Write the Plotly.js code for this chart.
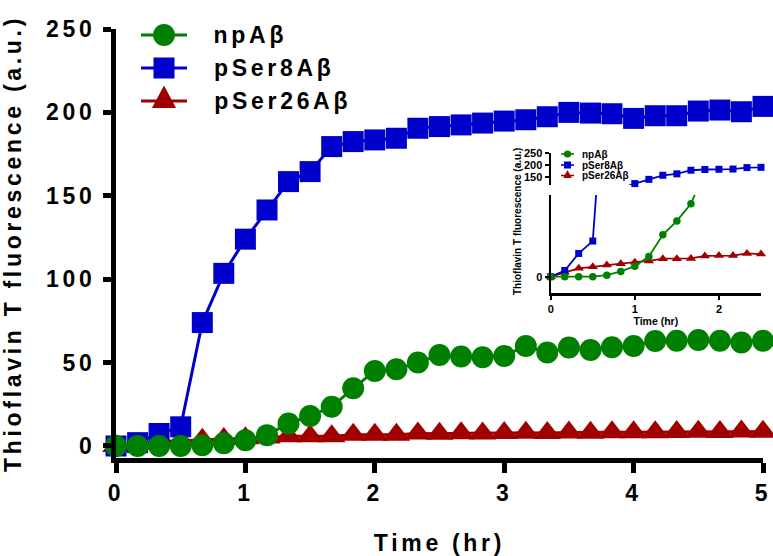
<!DOCTYPE html>
<html>
<head>
<meta charset="utf-8">
<script src="https://cdn.plot.ly/plotly-3.0.1.min.js"></script>
<style>
html, body { margin: 0; padding: 0; background: #ffffff; }
#chart { width: 773px; height: 556px; }
.xtick text, .ytick text, .xtitle, .ytitle,
.annotation[data-index="0"] text, .annotation[data-index="1"] text, .annotation[data-index="2"] text { letter-spacing: 3.7px; }
</style>
</head>
<body>
<div id="chart"></div>
<script>
// ---- data ----
const timeHr = [0, 0.167, 0.333, 0.5, 0.667, 0.833, 1, 1.167, 1.333, 1.5, 1.667, 1.833, 2, 2.167, 2.333, 2.5,
  2.667, 2.833, 3, 3.167, 3.333, 3.5, 3.667, 3.833, 4, 4.167, 4.333, 4.5, 4.667, 4.833, 5];
const npAb = [0, 0, 0, 0, 0.5, 1.7, 3.4, 6.5, 13.5, 18, 23.5, 34.6, 45, 46, 50, 54.6,
  53.6, 53.2, 54, 60, 56, 59, 57.6, 59.2, 60, 63, 63.1, 63.5, 63.1, 62, 63.1];
const pSer8Ab = [0, 2, 7.5, 11.5, 74, 103.5, 124, 141.5, 158.5, 164.5, 179.5, 182.5, 183.5, 184.5, 190.5, 191.5,
  192.5, 193.6, 194.8, 195.6, 197.4, 200, 199.6, 199.2, 196.4, 198, 198, 200.8, 201.4, 200.4, 203.6];
const pSer26Ab = [0, 1.4, 2.7, 3.2, 3.8, 4.2, 4.7, 5.1, 5.8, 5.8, 5.9, 6.7, 6.8, 6.8, 7.5, 7.3,
  7.6, 7.5, 7.8, 8, 7.8, 8.1, 8, 8.2, 8.3, 8.2, 8.4, 8.6, 8.4, 8.7, 8.6];
const seriesNames = ['npAβ', 'pSer8Aβ', 'pSer26Aβ'];
const xTicks = [0, 1, 2, 3, 4, 5];
const yTicks = [0, 50, 100, 150, 200, 250];
const insetXTicks = [0, 1, 2];
const insetLowTicks = [0];
const insetHighTicks = [150, 200, 250];
const xTitle = 'Time (hr)';
const yTitle = 'Thioflavin T fluorescence (a.u.)';

// ---- style ----
const GREEN = '#008000', BLUE = '#0000CD', RED = '#A00000';
const FAM = 'Liberation Sans, Arial, sans-serif';
const SPACING = 3.7;
const W = 773, H = 556, L = 116, R = 10, T = 29, B = 98;
const PW = W - L - R, PH = H - T - B;
const X = px => (px - L) / PW;
const Y = py => (H - B - py) / PH;
const font = (size) => ({family: FAM, size: size, color: '#000', weight: 'bold'});

const series = [
  {y: pSer26Ab, name: seriesNames[2], color: RED, sym: 'triangle-up', big: 24, small: 9},
  {y: pSer8Ab, name: seriesNames[1], color: BLUE, sym: 'square', big: 21, small: 7},
  {y: npAb, name: seriesNames[0], color: GREEN, sym: 'circle', big: 22, small: 7.5}
];

const traces = [];
series.forEach(s => {
  traces.push({x: timeHr, y: s.y, name: s.name, type: 'scatter', mode: 'lines+markers',
    xaxis: 'x', yaxis: 'y', cliponaxis: false, showlegend: false,
    line: {color: s.color, width: 3}, marker: {symbol: s.sym, size: s.big, color: s.color}});
});
series.forEach(s => {
  ['y2', 'y3'].forEach(ya => {
    traces.push({x: timeHr, y: s.y, name: s.name, type: 'scatter', mode: 'lines+markers',
      xaxis: 'x2', yaxis: ya, cliponaxis: false, showlegend: false,
      line: {color: s.color, width: 1.8}, marker: {symbol: s.sym, size: s.small, color: s.color}});
  });
});

// ---- custom legends (main + inset) ----
const shapes = [], annotations = [];
function legendRow(cx, cy, lineHalf, mk, sym, color, lw, textX, text, fsize, spaced) {
  shapes.push({type: 'line', xref: 'paper', yref: 'paper', x0: X(cx - lineHalf), x1: X(cx + lineHalf),
    y0: Y(cy), y1: Y(cy), line: {color: color, width: lw}});
  if (sym === 'circle') {
    shapes.push({type: 'circle', xref: 'paper', yref: 'paper', x0: X(cx - mk), x1: X(cx + mk),
      y0: Y(cy + mk), y1: Y(cy - mk), fillcolor: color, line: {width: 0}});
  } else if (sym === 'square') {
    shapes.push({type: 'rect', xref: 'paper', yref: 'paper', x0: X(cx - mk), x1: X(cx + mk),
      y0: Y(cy + mk), y1: Y(cy - mk), fillcolor: color, line: {width: 0}});
  } else {
    const p = 'M' + X(cx - mk * 1.05) + ',' + Y(cy + mk * 0.6) + ' L' + X(cx + mk * 1.05) + ',' + Y(cy + mk * 0.6) +
      ' L' + X(cx) + ',' + Y(cy - mk * 1.35) + ' Z';
    shapes.push({type: 'path', xref: 'paper', yref: 'paper', path: p, fillcolor: color, line: {width: 0}});
  }
  const shift = spaced ? [...text].length * SPACING / 2 : 0;
  annotations.push({xref: 'paper', yref: 'paper', x: X(textX), y: Y(cy), xanchor: 'left', yanchor: 'middle',
    xshift: shift, text: text, showarrow: false, font: font(fsize)});
}
legendRow(164, 35, 23, 11, 'circle', GREEN, 3, 212, seriesNames[0], 23, true);
legendRow(164, 68, 23, 10.5, 'square', BLUE, 3, 212, seriesNames[1], 23, true);
legendRow(164, 101, 23, 11.5, 'triangle', RED, 3, 212, seriesNames[2], 23, true);
legendRow(567.5, 154, 6.5, 3.6, 'circle', GREEN, 1.6, 580, seriesNames[0], 10, false);
legendRow(567.5, 165, 6.5, 3.5, 'square', BLUE, 1.6, 580, seriesNames[1], 10, false);
legendRow(567.5, 175.5, 6.5, 4, 'triangle', RED, 1.6, 580, seriesNames[2], 10, false);
annotations.push({xref: 'paper', yref: 'paper', x: X(517), y: Y(222), xanchor: 'center', yanchor: 'middle',
  text: yTitle, textangle: -90, showarrow: false, font: font(10)});

const axMain = {showline: true, linecolor: '#000', linewidth: 5, ticks: 'outside', tickcolor: '#000',
  tickwidth: 5, showgrid: false, zeroline: false, tickfont: font(23)};
const axInset = {showline: true, linecolor: '#000', linewidth: 2.2, ticks: 'outside', tickcolor: '#000',
  tickwidth: 2, ticklen: 4, showgrid: false, zeroline: false, tickfont: font(11)};

const layout = {
  width: W, height: H, margin: {l: L, r: R, t: T, b: B, pad: 0},
  paper_bgcolor: '#fff', plot_bgcolor: 'rgba(0,0,0,0)', showlegend: false,
  xaxis: Object.assign({}, axMain, {range: [0, 5], tickvals: xTicks, ticklen: 10,
    title: {text: xTitle, font: font(23), standoff: 33}}),
  yaxis: Object.assign({}, axMain, {range: [-7.2, 250], tickvals: yTicks, ticklen: 8, ticklabelstandoff: 3,
    title: {text: yTitle, font: font(23), standoff: 23}}),
  xaxis2: Object.assign({}, axInset, {domain: [X(550.7), X(761)], anchor: 'y2', range: [0, 2.5],
    tickvals: insetXTicks, title: {text: xTitle, font: font(10.5), standoff: 0}}),
  yaxis2: Object.assign({}, axInset, {domain: [Y(293.3), Y(195)], anchor: 'x2', range: [-5.35, 26.35],
    tickvals: insetLowTicks}),
  yaxis3: Object.assign({}, axInset, {domain: [Y(185), Y(153.3)], anchor: 'x2', range: [118, 250],
    tickvals: insetHighTicks}),
  shapes: shapes, annotations: annotations
};

Plotly.newPlot('chart', traces, layout, {staticPlot: true, displayModeBar: false});
</script>
</body>
</html>
